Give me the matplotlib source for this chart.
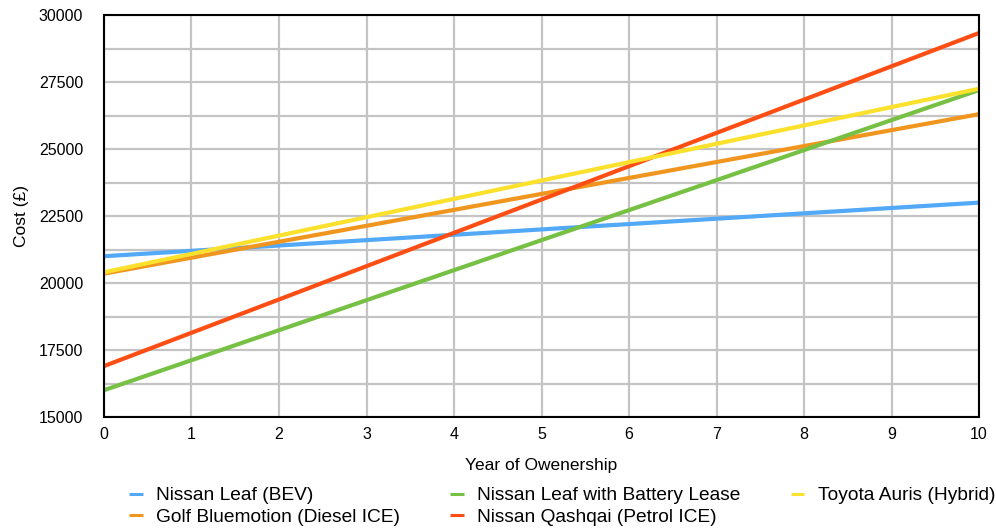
import matplotlib
matplotlib.use("Agg")
import matplotlib.pyplot as plt
from matplotlib.ticker import MultipleLocator

plt.rcParams['font.family'] = ['Liberation Sans', 'DejaVu Sans']

years = [0, 1, 2, 3, 4, 5, 6, 7, 8, 9, 10]
leaf_bev = [21000, 21200, 21400, 21600, 21800, 22000, 22200, 22400, 22600, 22800, 23000]
golf = [20350, 20945, 21540, 22135, 22730, 23325, 23920, 24515, 25110, 25705, 26300]
leaf_lease = [16000, 17120, 18240, 19360, 20480, 21600, 22720, 23840, 24960, 26080, 27200]
qashqai = [16900, 18143, 19386, 20629, 21872, 23115, 24358, 25601, 26844, 28087, 29330]
auris = [20400, 21085, 21770, 22455, 23140, 23825, 24510, 25195, 25880, 26565, 27250]

labels = ["Nissan Leaf (BEV)", "Golf Bluemotion (Diesel ICE)",
          "Nissan Leaf with Battery Lease", "Nissan Qashqai (Petrol ICE)",
          "Toyota Auris (Hybrid)"]
colors = ["#52A9F7", "#F0961E", "#76C043", "#FF4E14", "#FBE02C"]
series = [leaf_bev, golf, leaf_lease, qashqai, auris]

fig = plt.figure(figsize=(9.96, 5.29), dpi=100)
ax = fig.add_axes([0.1044, 0.2117, 0.8786, 0.7599])

for s, c, l in zip(series, colors, labels):
    ax.plot(years, s, color=c, lw=3, label=l, solid_capstyle='butt')

ax.set_xlim(0, 10)
ax.set_ylim(15000, 30000)
ax.xaxis.set_major_locator(MultipleLocator(1))
ax.yaxis.set_major_locator(MultipleLocator(2500))
ax.yaxis.set_minor_locator(MultipleLocator(1250))
ax.grid(True, which='both', color='#C4C4C4', lw=1.6)
ax.set_axisbelow(True)
for sp in ax.spines.values():
    sp.set_color('black')
    sp.set_linewidth(1.5)
    sp.set_zorder(5)
ax.tick_params(axis='both', which='both', length=0, labelsize=11.5)
ax.tick_params(axis='y', pad=15)
ax.tick_params(axis='x', pad=7)
ax.set_xlabel("Year of Owenership", fontsize=12.5, labelpad=12)
ax.set_ylabel("Cost (£)", fontsize=12.5, labelpad=7)

leg = fig.legend(loc='lower left', bbox_to_anchor=(0.122, -0.008), ncol=3, frameon=False,
                 fontsize=13.8, handlelength=0.72, handletextpad=0.7,
                 columnspacing=2.6, labelspacing=0.2, borderaxespad=0)
for h in leg.get_lines():
    h.set_linewidth(2.2)

fig.savefig("out.png", dpi=100)
